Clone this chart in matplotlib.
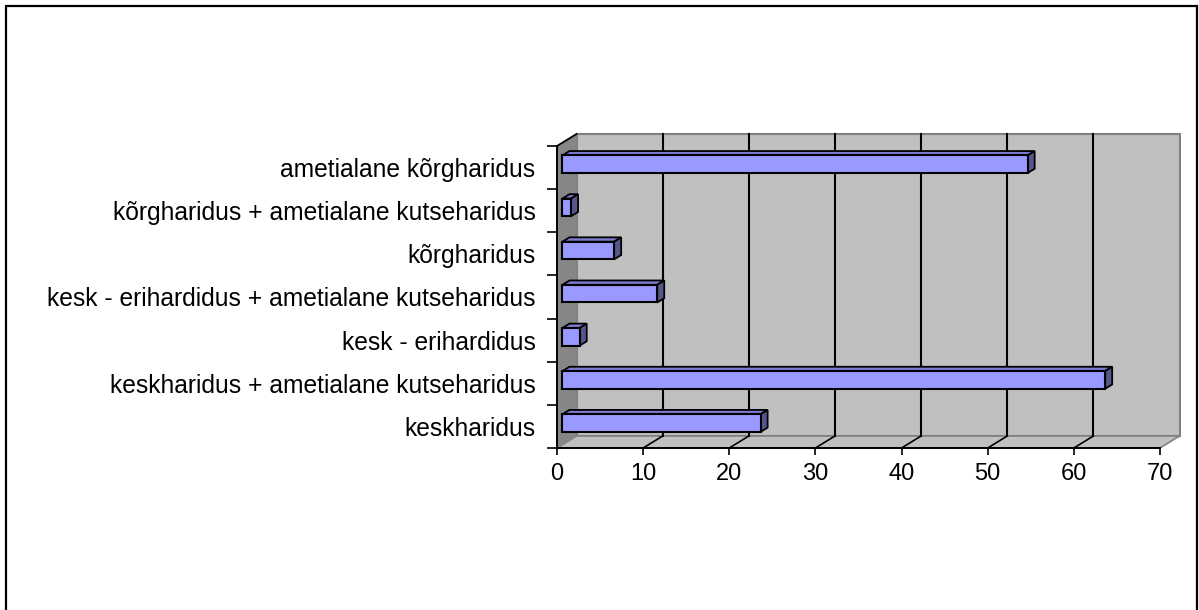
import matplotlib
matplotlib.use("Agg")
import matplotlib.pyplot as plt
from matplotlib.patches import Polygon, Rectangle

plt.rcParams['font.family'] = ['Liberation Sans', 'DejaVu Sans']

categories = ['keskharidus',
              'keskharidus + ametialane kutseharidus',
              'kesk - erihardidus',
              'kesk - erihardidus + ametialane kutseharidus',
              'kõrgharidus',
              'kõrgharidus + ametialane kutseharidus',
              'ametialane kõrgharidus']
values = [23, 63, 2, 11, 6, 1, 54]
xticks = [0, 10, 20, 30, 40, 50, 60, 70]

W, H = 1199, 610
fig = plt.figure(figsize=(W / 100, H / 100), dpi=100)
ax = fig.add_axes([557 / W, (H - 448) / H, 603 / W, 302 / H])
ax.set_xlim(0, 70)
ax.set_ylim(0, len(categories))
ax.patch.set_visible(False)

# 3d depth of the plot box (data units) and of the bars (fractions of it)
DX, DY = 2.264, 0.278
F0, F1 = 0.28, 0.64
n = len(categories)


def shift(pts, f):
    return [(x + f * DX, y + f * DY) for x, y in pts]


# walls and floor
ax.add_patch(Polygon(shift([(0, 0), (70, 0), (70, n), (0, n)], 1), fc='#c0c0c0',
                     ec='#808080', lw=1.5, clip_on=False, zorder=0.3))
ax.add_patch(Polygon([(0, 0), (70, 0), (70 + DX, DY), (DX, DY)], fc='#c0c0c0',
                     ec='#808080', lw=1.2, clip_on=False, zorder=0.35))
ax.add_patch(Polygon([(0, 0), (0, n), (DX, n + DY), (DX, DY)], fc='#868686',
                     ec='none', clip_on=False, zorder=0.4))
ax.plot([0, DX], [n, n + DY], color='k', lw=1.3, clip_on=False, zorder=0.5)

for v in xticks[1:-1]:
    ax.plot([v + DX, v + DX], [DY, n + DY], color='k', lw=1.5, clip_on=False, zorder=0.6)
    ax.plot([v, v + DX], [0, DY], color='k', lw=1.2, clip_on=False, zorder=0.6)

# bars
bh = 0.41
for i, v in enumerate(values):
    yc = i + 0.5
    y0, y1 = yc - bh / 2, yc + bh / 2
    top = shift([(0, y1), (v, y1)], F0) + shift([(v, y1), (0, y1)], F1)
    side = shift([(v, y0), (v, y1)], F0) + shift([(v, y1), (v, y0)], F1)
    ax.add_patch(Polygon(top, fc='#7b7bd0', ec='k', lw=1.3, clip_on=False, zorder=2))
    ax.add_patch(Polygon(side, fc='#56568f', ec='k', lw=1.3, clip_on=False, zorder=2))
ax.barh([i + 0.5 + F0 * DY for i in range(n)], values, left=F0 * DX, height=bh,
        color='#9999ff', edgecolor='k', lw=1.5, zorder=3)

# axes
for s in ['top', 'right']:
    ax.spines[s].set_visible(False)
for s in ['left', 'bottom']:
    ax.spines[s].set_linewidth(1.4)
    ax.spines[s].set_zorder(5)

ax.set_xticks(xticks)
ax.set_xticklabels([str(t) for t in xticks])
ax.tick_params(axis='x', length=5, width=1.2, pad=6, labelsize=17)

ax.set_yticks(range(n + 1))
ax.set_yticklabels([])
ax.tick_params(axis='y', which='major', length=7, width=1.2)
ax.set_yticks([i + 0.5 for i in range(n)], minor=True)
ax.set_yticklabels(categories, minor=True)
ax.tick_params(axis='y', which='minor', length=0, pad=15.5, labelsize=17.7)

# outer frame
fig.add_artist(Rectangle((6 / W, -0.05), (1197 - 6) / W, 1 - 5.5 / H + 0.05,
                         fill=False, ec='k', lw=1.6, transform=fig.transFigure))

fig.savefig('out.png', dpi=100)
